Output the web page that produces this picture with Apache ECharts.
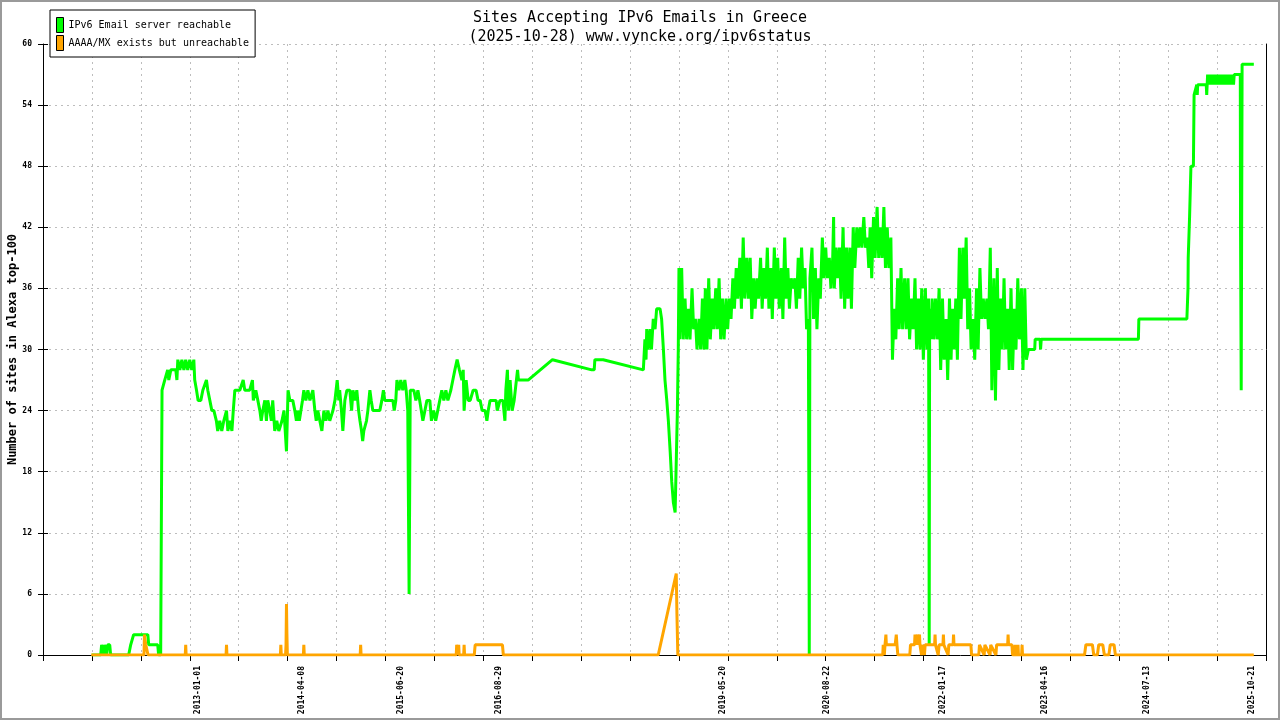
<!DOCTYPE html>
<html><head><meta charset="utf-8">
<script src="https://cdn.jsdelivr.net/npm/echarts@6/dist/echarts.min.js"></script>
<style>
html,body{margin:0;padding:0;background:#fff;}
#c{position:absolute;left:0;top:0;width:1280px;height:720px;}
#frame{position:absolute;left:0;top:0;width:1280px;height:720px;box-sizing:border-box;border:2px solid #9a9a9a;pointer-events:none;}
</style></head><body>
<div id="c"></div><div id="frame"></div>
<script>
const titleText = 'Sites Accepting IPv6 Emails in Greece\n(2025-10-28) www.vyncke.org/ipv6status';
const yAxisName = 'Number of sites in Alexa top-100';
const seriesNames = ['IPv6 Email server reachable', 'AAAA/MX exists but unreachable'];
const xLabelDates = ['2013-01-01','2014-04-08','2015-06-20','2016-08-29','2019-05-20','2020-08-22','2022-01-17','2023-04-16','2024-07-13','2025-10-21'];
const axisStart = '2011-02-13';
const axisEnd = '2025-12-21';
const yMin = 0, yMax = 60, yStep = 6;

const greenReachable = [
['2011-09-17',0],['2011-10-27',0],['2011-10-31',1],['2011-11-09',0],['2011-11-13',1],['2011-11-22',0],['2011-11-27',1],['2011-12-06',1],['2011-12-10',0],
['2012-02-28',0],['2012-03-08',1],['2012-03-21',2],['2012-05-23',2],['2012-05-27',1],['2012-07-06',1],['2012-07-10',0],['2012-07-19',0],
['2012-07-25',26],['2012-08-06',27],['2012-08-19',28],['2012-08-24',27],['2012-09-02',28],['2012-09-24',28],['2012-09-29',27],['2012-10-03',29],['2012-10-12',28],['2012-10-21',29],['2012-10-30',28],['2012-11-07',29],['2012-11-16',28],['2012-11-25',29],['2012-12-04',28],['2012-12-13',29],['2012-12-17',27],['2012-12-25',26],
['2013-01-01',25],['2013-01-13',25],['2013-01-22',26],['2013-02-07',27],['2013-02-13',26],['2013-02-22',25],['2013-03-03',24],['2013-03-12',24],['2013-03-23',23],['2013-03-29',22],['2013-04-07',23],['2013-04-16',22],['2013-04-25',23],['2013-05-07',24],['2013-05-13',22],['2013-05-22',23],['2013-05-31',22],['2013-06-06',24],['2013-06-13',26],['2013-07-05',26],['2013-07-20',27],['2013-07-27',26],['2013-08-18',26],['2013-08-30',27],['2013-09-03',25],['2013-09-14',26],['2013-09-23',25],['2013-10-02',24],['2013-10-08',23],['2013-10-15',24],['2013-10-24',25],['2013-10-31',23],['2013-11-06',25],['2013-11-15',24],['2013-11-22',23],['2013-11-28',25],['2013-12-07',22],['2013-12-16',23],['2013-12-25',22],
['2014-01-08',23],['2014-01-17',24],['2014-01-25',24],['2014-01-28',20],['2014-02-04',26],['2014-02-12',25],['2014-02-25',25],['2014-03-06',24],['2014-03-13',23],['2014-03-19',24],['2014-03-26',23],['2014-04-02',24],['2014-04-09',25],['2014-04-15',26],['2014-04-24',25],['2014-05-03',26],['2014-05-12',25],['2014-05-25',26],['2014-06-03',24],['2014-06-09',23],['2014-06-16',24],['2014-07-04',22],['2014-07-13',24],['2014-07-22',23],['2014-07-31',24],['2014-08-08',23],['2014-08-22',24],['2014-08-31',25],['2014-09-10',27],['2014-09-17',25],['2014-09-21',26],['2014-09-29',24],['2014-10-05',22],['2014-10-14',25],['2014-10-23',26],['2014-11-05',26],['2014-11-13',24],['2014-11-19',26],['2014-11-28',25],['2014-12-06',26],['2014-12-14',24],['2014-12-20',23],['2014-12-27',22],
['2015-01-01',21],['2015-01-06',22],['2015-01-18',23],['2015-01-24',24],['2015-02-02',26],['2015-02-08',25],['2015-02-15',24],['2015-03-18',24],['2015-03-27',25],['2015-04-03',26],['2015-04-09',25],['2015-05-15',25],['2015-05-21',24],['2015-05-28',25],['2015-06-02',27],['2015-06-11',26],['2015-06-19',27],['2015-06-28',26],['2015-07-07',27],['2015-07-13',26],['2015-07-20',24],['2015-07-26',6],['2015-07-31',26],['2015-08-16',26],['2015-08-25',25],['2015-09-03',26],['2015-09-11',25],['2015-09-18',24],['2015-09-25',23],['2015-10-04',24],['2015-10-13',25],['2015-10-26',25],['2015-11-02',23],['2015-11-12',24],['2015-11-21',23],['2015-11-30',24],['2015-12-09',25],['2015-12-18',26],['2015-12-27',25],
['2016-01-05',26],['2016-01-14',25],['2016-01-27',26],['2016-02-05',27],['2016-02-14',28],['2016-02-24',29],['2016-03-05',28],['2016-03-16',27],['2016-03-22',28],['2016-03-26',24],['2016-04-04',27],['2016-04-13',25],['2016-04-22',25],['2016-05-05',26],['2016-05-18',26],['2016-05-27',25],['2016-06-05',25],['2016-06-14',24],['2016-06-27',24],['2016-07-05',23],['2016-07-11',24],['2016-07-19',25],['2016-08-15',25],['2016-08-20',24],['2016-09-01',25],['2016-09-14',25],['2016-09-23',23],['2016-09-27',26],['2016-10-04',28],['2016-10-09',24],['2016-10-16',27],['2016-10-25',24],['2016-11-03',25],['2016-11-18',28],['2016-11-22',27],
['2017-01-04',27],['2017-04-22',29],['2017-10-13',28],['2017-10-24',28],['2017-10-27',29],['2017-12-03',29],
['2018-05-30',28],['2018-06-06',31],['2018-06-11',29],['2018-06-14',32],['2018-06-20',30],['2018-06-29',32],['2018-07-05',30],['2018-07-13',33],['2018-07-21',32],['2018-07-28',34],['2018-08-12',34],['2018-08-19',33],['2018-08-27',30],['2018-09-03',27],['2018-09-11',25],['2018-09-18',23],['2018-09-26',20],['2018-10-03',17],['2018-10-10',15],['2018-10-18',14],['2018-10-24',14],['2018-10-28',24],['2018-11-01',30],['2018-11-04',38],['2018-11-08',31],['2018-11-16',38],['2018-11-23',31],
['2018-12-01',35],['2018-12-08',31],['2018-12-16',34],['2018-12-23',31],
['2019-01-01',36],['2019-01-08',32],['2019-01-16',33],['2019-01-23',30],
['2019-02-01',33],['2019-02-08',30],['2019-02-16',35],['2019-02-23',30],
['2019-03-01',36],['2019-03-08',30],['2019-03-16',37],['2019-03-23',31],
['2019-04-01',35],['2019-04-08',32],['2019-04-16',36],['2019-04-23',32],
['2019-05-01',37],['2019-05-08',31],['2019-05-16',35],['2019-05-23',31],
['2019-06-01',35],['2019-06-08',32],['2019-06-16',35],['2019-06-23',33],
['2019-07-01',37],['2019-07-08',34],['2019-07-16',38],['2019-07-23',35],
['2019-08-01',39],['2019-08-08',34],['2019-08-16',41],['2019-08-23',35],
['2019-09-01',39],['2019-09-08',35],['2019-09-16',39],['2019-09-23',33],
['2019-10-01',37],['2019-10-08',34],['2019-10-16',37],['2019-10-23',35],
['2019-11-01',39],['2019-11-08',34],['2019-11-16',38],['2019-11-23',35],
['2019-12-01',40],['2019-12-08',34],['2019-12-16',38],['2019-12-23',33],
['2020-01-01',40],['2020-01-08',35],['2020-01-16',39],['2020-01-23',34],
['2020-02-01',38],['2020-02-08',33],['2020-02-16',41],['2020-02-23',35],
['2020-03-01',38],['2020-03-08',34],['2020-03-16',37],['2020-03-23',36],
['2020-04-01',37],['2020-04-08',34],['2020-04-16',39],['2020-04-23',35],
['2020-05-01',40],['2020-05-08',36],['2020-05-16',38],['2020-05-23',32],
['2020-05-31',33],['2020-06-02',18],['2020-06-04',0],['2020-06-07',37],['2020-06-16',40],['2020-06-23',33],
['2020-07-01',38],['2020-07-08',32],['2020-07-16',37],['2020-07-23',35],
['2020-08-01',41],['2020-08-08',37],['2020-08-16',40],['2020-08-23',37],
['2020-09-01',39],['2020-09-08',36],['2020-09-16',39],['2020-09-20',43],['2020-09-23',36],
['2020-10-01',40],['2020-10-08',37],['2020-10-16',40],['2020-10-23',35],
['2020-11-01',42],['2020-11-08',34],['2020-11-16',40],['2020-11-23',35],
['2020-12-01',40],['2020-12-08',34],['2020-12-16',42],['2020-12-23',38],
['2021-01-01',42],['2021-01-08',40],['2021-01-16',42],['2021-01-23',40],
['2021-02-01',43],['2021-02-08',40],['2021-02-16',41],['2021-02-23',38],
['2021-03-01',42],['2021-03-08',37],['2021-03-16',43],['2021-03-23',39],
['2021-04-01',44],['2021-04-08',39],['2021-04-16',42],['2021-04-23',39],
['2021-05-01',44],['2021-05-08',38],['2021-05-16',42],['2021-05-23',38],
['2021-06-01',41],['2021-06-08',29],['2021-06-16',34],['2021-06-23',31],
['2021-07-01',37],['2021-07-08',32],['2021-07-16',38],['2021-07-23',32],
['2021-08-01',37],['2021-08-08',32],['2021-08-16',37],['2021-08-23',31],
['2021-09-01',35],['2021-09-08',32],['2021-09-16',37],['2021-09-23',30],
['2021-10-01',35],['2021-10-08',30],['2021-10-16',36],['2021-10-23',29],
['2021-11-01',36],['2021-11-08',30],['2021-11-15',35],['2021-11-17',17],['2021-11-18',1],['2021-11-20',34],['2021-11-25',31],
['2021-12-01',35],['2021-12-08',31],['2021-12-16',35],['2021-12-23',31],
['2022-01-01',36],['2022-01-08',28],['2022-01-16',35],['2022-01-23',29],
['2022-02-01',33],['2022-02-08',27],['2022-02-16',35],['2022-02-23',29],
['2022-03-01',34],['2022-03-08',30],['2022-03-16',35],['2022-03-23',29],
['2022-04-01',40],['2022-04-08',33],['2022-04-16',40],['2022-04-23',35],
['2022-05-01',41],['2022-05-08',32],['2022-05-16',36],['2022-05-23',30],
['2022-06-01',33],['2022-06-08',29],['2022-06-16',36],['2022-06-23',30],
['2022-07-01',38],['2022-07-08',33],['2022-07-16',35],['2022-07-23',33],
['2022-08-01',35],['2022-08-08',32],['2022-08-16',40],['2022-08-23',26],
['2022-09-01',37],['2022-09-08',25],['2022-09-16',38],['2022-09-23',28],
['2022-10-01',35],['2022-10-08',30],['2022-10-16',37],['2022-10-23',30],
['2022-11-01',34],['2022-11-08',28],['2022-11-16',36],['2022-11-23',28],
['2022-12-01',34],['2022-12-08',30],['2022-12-16',37],['2022-12-23',31],
['2023-01-01',36],['2023-01-08',28],['2023-01-16',36],['2023-01-23',29],
['2023-02-01',30],['2023-03-01',30],['2023-03-03',31],['2023-03-25',31],['2023-03-27',30],['2023-03-30',31],
['2024-06-03',31],['2024-06-05',33],
['2025-01-04',33],['2025-01-09',36],['2025-01-10',39],['2025-01-16',43],['2025-01-22',48],['2025-02-02',48],['2025-02-05',55],['2025-02-17',56],['2025-02-19',55],['2025-02-21',56],['2025-03-31',56],['2025-04-02',55],['2025-04-04',56],['2025-04-06',57],
['2025-04-10',56],['2025-04-14',57],['2025-04-18',56],['2025-04-22',57],['2025-04-26',56],['2025-04-30',57],['2025-05-04',56],['2025-05-08',57],['2025-05-12',56],['2025-05-16',57],['2025-05-20',56],['2025-05-24',57],['2025-05-28',56],['2025-06-01',57],['2025-06-05',56],['2025-06-09',57],['2025-06-13',56],['2025-06-17',57],['2025-06-21',56],['2025-06-25',57],['2025-06-29',56],['2025-07-03',57],['2025-07-07',56],['2025-07-11',57],['2025-07-15',56],['2025-07-19',57],['2025-07-23',56],['2025-07-27',57],['2025-07-30',56],['2025-08-02',57],
['2025-08-29',57],['2025-08-30',42],['2025-09-02',26],['2025-09-06',58],['2025-10-28',58]
];

const orangeUnreachable = [
['2011-09-15',0],['2012-05-06',0],['2012-05-08',2],['2012-05-14',1],['2012-05-22',1],['2012-05-24',0],['2012-11-05',0],['2012-11-07',1],['2012-11-09',0],
['2013-05-05',0],['2013-05-07',1],['2013-05-09',0],['2014-01-01',0],['2014-01-03',1],['2014-01-05',0],['2014-01-24',0],['2014-01-26',1],['2014-01-28',5],['2014-01-30',2],['2014-02-01',0],
['2014-04-13',0],['2014-04-15',1],['2014-04-17',0],['2014-12-21',0],['2014-12-23',1],['2014-12-25',0],
['2016-02-20',0],['2016-02-22',1],['2016-02-26',1],['2016-02-28',0],['2016-03-02',1],['2016-03-04',0],['2016-03-24',0],['2016-03-26',1],['2016-03-28',0],['2016-05-10',0],['2016-05-14',1],['2016-09-12',1],['2016-09-16',0],
['2018-08-04',0],['2018-10-23',8],['2018-10-26',4],['2018-10-30',0],
['2021-04-26',0],['2021-04-28',1],['2021-05-03',0],['2021-05-06',1],['2021-05-10',2],['2021-05-12',1],['2021-06-20',1],['2021-06-25',2],['2021-06-28',1],['2021-07-02',0],
['2021-08-24',0],['2021-08-27',1],['2021-09-14',1],['2021-09-16',2],['2021-09-18',1],['2021-09-24',1],['2021-09-26',2],['2021-09-28',1],['2021-10-04',1],['2021-10-06',2],['2021-10-08',1],['2021-10-15',0],['2021-10-18',1],['2021-10-28',0],['2021-10-31',1],
['2021-12-12',1],['2021-12-14',2],['2021-12-16',1],['2021-12-28',0],['2022-01-01',1],['2022-01-18',1],['2022-01-20',2],['2022-01-22',1],['2022-02-10',0],['2022-02-13',1],['2022-03-04',1],['2022-03-06',2],['2022-03-08',1],
['2022-05-22',1],['2022-05-25',0],['2022-06-26',0],['2022-06-29',1],['2022-07-20',0],['2022-07-23',1],['2022-08-15',0],['2022-08-18',1],['2022-09-10',0],['2022-09-13',1],
['2022-11-01',1],['2022-11-03',2],['2022-11-05',1],['2022-11-20',1],['2022-11-23',0],['2022-12-02',0],['2022-12-04',1],['2022-12-06',0],['2022-12-15',0],['2022-12-17',1],['2022-12-19',0],['2023-01-02',0],['2023-01-04',1],['2023-01-06',0],
['2023-10-08',0],['2023-10-14',1],['2023-11-12',1],['2023-11-18',0],['2023-12-04',0],['2023-12-10',1],['2023-12-28',1],['2024-01-04',0],['2024-01-24',0],['2024-01-30',1],['2024-02-16',1],['2024-02-22',0],
['2025-10-28',0]
];

function ts(s) { const p = s.split('-').map(Number); return Date.UTC(p[0], p[1] - 1, p[2]); }
function fmt(t) { const d = new Date(t); return d.getUTCFullYear() + '-' + String(d.getUTCMonth() + 1).padStart(2, '0') + '-' + String(d.getUTCDate()).padStart(2, '0'); }
const minT = ts(axisStart), maxT = ts(axisEnd);
const tickParts = 25;
const xTickValues = [];
for (let i = 0; i <= tickParts; i++) xTickValues.push(minT + (maxT - minT) * i / tickParts);
const xLabelValues = xLabelDates.map(ts);
const mono = 'DejaVu Sans Mono';

const chart = echarts.init(document.getElementById('c'), null, { renderer: 'canvas' });
chart.setOption({
  animation: false,
  backgroundColor: '#fff',
  title: {
    text: titleText, left: 'center', top: 4,
    textStyle: { fontFamily: mono, fontSize: 15, fontWeight: 'normal', color: '#000', lineHeight: 19 }
  },
  legend: {
    orient: 'vertical', left: 50, top: 10, padding: [7, 6, 6, 6],
    backgroundColor: '#fff', borderColor: '#000', borderWidth: 1,
    itemWidth: 7, itemHeight: 15, itemGap: 2, icon: 'rect',
    itemStyle: { borderColor: '#000', borderWidth: 1 },
    textStyle: { fontFamily: mono, fontSize: 10, color: '#000' },
    data: seriesNames
  },
  grid: { left: 43, right: 14, top: 44, bottom: 65, outerBoundsMode: 'none', containLabel: false },
  xAxis: {
    type: 'value', min: minT, max: maxT, scale: true,
    axisLine: { onZero: false, lineStyle: { color: '#000', width: 1 } },
    axisTick: { show: true, customValues: xTickValues, length: 6, lineStyle: { color: '#000' } },
    axisLabel: { customValues: xLabelValues, rotate: 90, margin: 11, fontFamily: mono, fontSize: 8, fontWeight: 'bold', color: '#000', formatter: v => fmt(v) },
    splitLine: { show: true, lineStyle: { color: '#bdbdbd', width: 1, type: [2, 4] } }
  },
  yAxis: [
    {
      type: 'value', min: yMin, max: yMax, interval: yStep, position: 'left',
      name: yAxisName, nameLocation: 'middle', nameGap: 24, nameRotate: 90, nameMoveOverlap: false,
      nameTextStyle: { fontFamily: mono, fontSize: 12, fontWeight: 'bold', color: '#000' },
      axisLine: { show: true, lineStyle: { color: '#000', width: 1 } },
      axisTick: { show: true, length: 5, lineStyle: { color: '#000' } },
      axisLabel: { margin: 11, fontFamily: mono, fontSize: 8, fontWeight: 'bold', color: '#000' },
      splitLine: { show: true, lineStyle: { color: '#bdbdbd', width: 1, type: [2, 4] } }
    },
    {
      type: 'value', min: yMin, max: yMax, interval: yStep, position: 'left', offset: 0,
      axisLine: { show: false }, axisTick: { show: true, inside: true, length: 5, lineStyle: { color: '#000' } },
      axisLabel: { show: false }, splitLine: { show: false }
    },
    {
      type: 'value', min: yMin, max: yMax, interval: yStep, position: 'right', offset: 0,
      axisLine: { show: true, lineStyle: { color: '#000', width: 1 } }, axisTick: { show: false },
      axisLabel: { show: false }, splitLine: { show: false }
    }
  ],
  series: [
    {
      name: seriesNames[0], type: 'line', yAxisIndex: 0, showSymbol: false, symbol: 'none',
      data: greenReachable.map(p => [ts(p[0]), p[1]]),
      lineStyle: { color: '#00ff00', width: 3 }, itemStyle: { color: '#00ff00' }
    },
    {
      name: seriesNames[1], type: 'line', yAxisIndex: 0, showSymbol: false, symbol: 'none',
      data: orangeUnreachable.map(p => [ts(p[0]), p[1]]),
      lineStyle: { color: '#ffa500', width: 3 }, itemStyle: { color: '#ffa500' }
    }
  ]
});
</script>
</body></html>
